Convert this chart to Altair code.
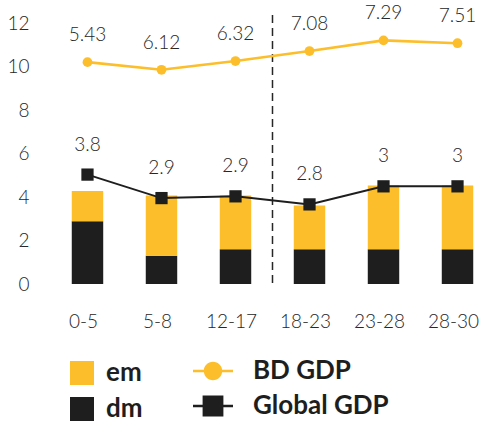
import altair as alt
import pandas as pd

categories = ["0-5", "5-8", "12-17", "18-23", "23-28", "28-30"]
dm_values = [2.88, 1.3, 1.6, 1.6, 1.6, 1.6]
em_values = [1.4, 2.77, 2.47, 2.01, 2.93, 2.93]
bd_gdp = [10.2, 9.85, 10.25, 10.71, 11.2, 11.07]
global_gdp = [5.03, 3.95, 4.03, 3.66, 4.49, 4.49]
bd_labels = ["5.43", "6.12", "6.32", "7.08", "7.29", "7.51"]
global_labels = ["3.8", "2.9", "2.9", "2.8", "3", "3"]
bar_types = ["em", "dm"]
line_series = ["BD GDP", "Global GDP"]
divider_after = "12-17"

YELLOW = "#FDBE2B"
BLACK = "#1E1E1E"
TEXT = "#262626"
FONT = "Lato"

bars = pd.DataFrame(
    [{"cat": c, "type": "dm", "ord": 0, "value": v} for c, v in zip(categories, dm_values)]
    + [{"cat": c, "type": "em", "ord": 1, "value": v} for c, v in zip(categories, em_values)]
)
lines = pd.DataFrame(
    [{"cat": c, "series": "BD GDP", "value": v, "label": l} for c, v, l in zip(categories, bd_gdp, bd_labels)]
    + [{"cat": c, "series": "Global GDP", "value": v, "label": l} for c, v, l in zip(categories, global_gdp, global_labels)]
)

x_enc = alt.X(
    "cat:N",
    sort=categories,
    scale=alt.Scale(paddingInner=0.575, paddingOuter=0.186),
    axis=alt.Axis(title=None, labelAngle=0, domain=False, ticks=False, labelPadding=28,
                  labelFont=FONT, labelFontSize=19, labelFontWeight=300, labelColor=TEXT, labelOffset=-4),
)
y_scale = alt.Scale(domain=[0, 12], nice=False)
y_axis = alt.Axis(title=None, values=[0, 2, 4, 6, 8, 10, 12], domain=False, ticks=False, grid=False,
                  labelPadding=29, labelFont=FONT, labelFontSize=19, labelFontWeight=300, labelColor=TEXT)

bar_layer = alt.Chart(bars).mark_bar().encode(
    x=x_enc,
    y=alt.Y("value:Q", stack="zero", scale=y_scale, axis=y_axis),
    order=alt.Order("ord:Q"),
    color=alt.Color(
        "type:N",
        scale=alt.Scale(domain=bar_types, range=[YELLOW, BLACK]),
        legend=alt.Legend(
            title=None, orient="none", legendX=11, legendY=337, padding=0,
            symbolType="square", symbolSize=576, symbolStrokeWidth=0, symbolOpacity=1,
            labelFont=FONT, labelFontSize=26, labelFontWeight="bold", labelColor=BLACK,
            labelOffset=11, rowPadding=10,
        ),
    ),
)

rule_layer = alt.Chart(pd.DataFrame({"cat": [divider_after]})).mark_rule(
    color=TEXT, strokeWidth=1.5, strokeDash=[8, 5], xOffset=37
).encode(
    x=alt.X("cat:N", sort=categories, bandPosition=0.5),
    y=alt.value(-8),
    y2=alt.value(262),
)

line_layer = alt.Chart(lines).mark_line().encode(
    x=alt.X("cat:N", sort=categories),
    y=alt.Y("value:Q", scale=y_scale),
    strokeWidth=alt.StrokeWidth("series:N", scale=alt.Scale(domain=line_series, range=[2.6, 2.0]), legend=None),
    color=alt.Color("series:N", scale=alt.Scale(domain=line_series, range=[YELLOW, BLACK]), legend=None),
)

# legend-only layer: filled custom symbols (line + marker)
circle_sym = ("M-1,-0.065L1,-0.065L1,0.065L-1,0.065Z"
              "M0.46,0A0.46,0.46,0,1,1,-0.46,0A0.46,0.46,0,1,1,0.46,0Z")
square_sym = ("M-1,-0.065L1,-0.065L1,0.065L-1,0.065Z"
              "M-0.52,-0.52L0.52,-0.52L0.52,0.52L-0.52,0.52Z")
line_legend = alt.Legend(
    title=None, orient="none", legendX=135, legendY=328, padding=0,
    symbolSize=1600, symbolStrokeWidth=0, symbolOpacity=1,
    labelFont=FONT, labelFontSize=26, labelFontWeight="bold",
    labelColor=BLACK, labelOffset=20, rowPadding=2,
)
legend_layer = alt.Chart(lines).transform_filter("false").mark_point(
    filled=True, opacity=1, size=1600
).encode(
    x=alt.X("cat:N", sort=categories),
    y=alt.Y("value:Q", scale=y_scale),
    color=alt.Color("series:N", scale=alt.Scale(domain=line_series, range=[YELLOW, BLACK]), legend=line_legend),
    shape=alt.Shape("series:N", scale=alt.Scale(domain=line_series, range=[circle_sym, square_sym]), legend=line_legend),
)

bd_df = lines[lines.series == "BD GDP"]
gl_df = lines[lines.series == "Global GDP"]

bd_points = alt.Chart(bd_df).mark_point(filled=True, opacity=1, shape="circle", size=95, color=YELLOW).encode(
    x=alt.X("cat:N", sort=categories), y=alt.Y("value:Q", scale=y_scale))
gl_points = alt.Chart(gl_df).mark_point(filled=True, opacity=1, shape="square", size=150, color=BLACK).encode(
    x=alt.X("cat:N", sort=categories), y=alt.Y("value:Q", scale=y_scale))

bd_text = alt.Chart(bd_df).mark_text(font=FONT, fontSize=19, fontWeight=300, color=TEXT, dy=-27, baseline="middle").encode(
    x=alt.X("cat:N", sort=categories), y=alt.Y("value:Q", scale=y_scale), text="label:N")
gl_text = alt.Chart(gl_df).mark_text(font=FONT, fontSize=19, fontWeight=300, color=TEXT, dy=-30, baseline="middle").encode(
    x=alt.X("cat:N", sort=categories), y=alt.Y("value:Q", scale=y_scale), text="label:N")

chart = alt.layer(
    bar_layer, rule_layer, line_layer, legend_layer, bd_points, gl_points, bd_text, gl_text
).resolve_scale(
    color="independent", strokeWidth="independent", shape="independent"
).properties(
    width=429, height=261,
    autosize=alt.AutoSizeParams(type="none"),
    padding={"left": 58, "top": 23, "right": 0, "bottom": 143},
    background="white",
).configure_view(stroke=None)

chart.save("out.html", embed_options={"renderer": "svg", "actions": False})
